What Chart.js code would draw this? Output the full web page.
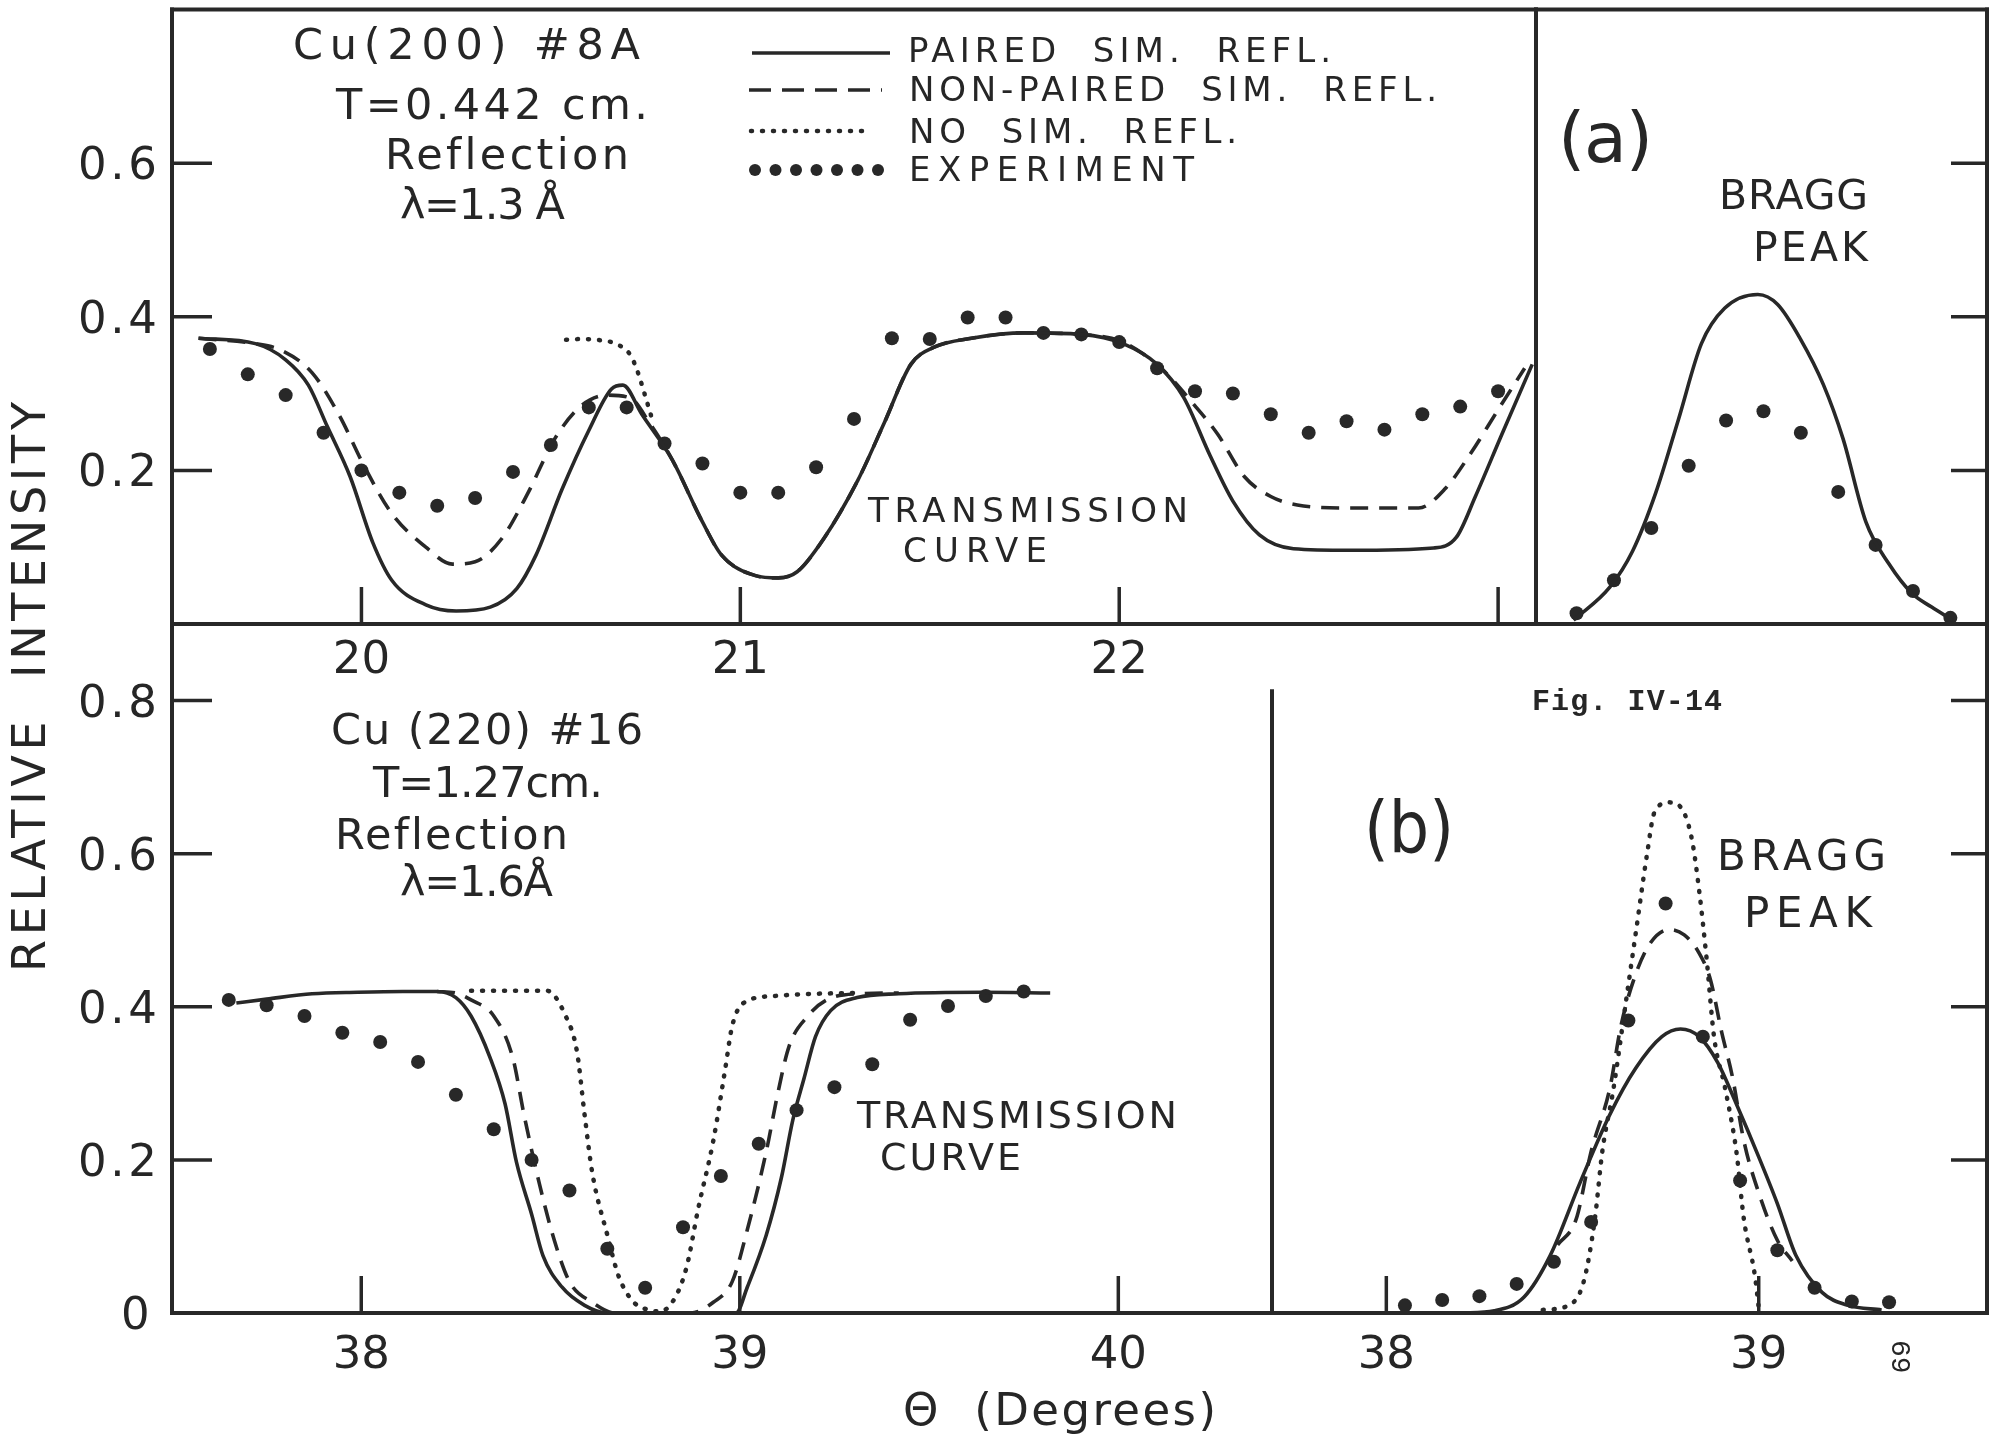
<!DOCTYPE html>
<html>
<head>
<meta charset="utf-8">
<script src="https://cdn.jsdelivr.net/npm/chart.js@4.4.1/dist/chart.umd.min.js"></script>
<style>
  html, body { margin: 0; padding: 0; background: #ffffff; }
  #wrap { position: relative; width: 1994px; height: 1437px; overflow: hidden; background: #ffffff; }
  #wrap canvas { position: absolute; left: 0; top: 0; }
</style>
</head>
<body>
<div id="wrap">
  <canvas id="cTop" width="1994" height="1437"></canvas>
  <canvas id="cBraggA" width="1994" height="1437"></canvas>
  <canvas id="cBot" width="1994" height="1437"></canvas>
  <canvas id="cBraggB" width="1994" height="1437"></canvas>
</div>
<script>
// ---------------- DATA ----------------
// (a) Cu(200) #8A, transmission curve region, theta in degrees
const topPairedX = [19.57,19.72,19.80,19.86,19.91,19.97,20.03,20.08,20.17,20.25,20.34,20.41,20.46,20.53,20.60,20.66,20.69,20.74,20.82,20.90,20.95,21.04,21.10,21.15,21.22,21.31,21.38,21.45,21.51,21.61,21.75,21.90,22.01,22.10,22.17,22.24,22.30,22.37,22.46,22.61,22.83,22.89,22.94,23.01,23.09];
const topPairedY = [0.372,0.365,0.344,0.311,0.257,0.192,0.106,0.057,0.025,0.017,0.022,0.046,0.089,0.176,0.252,0.306,0.311,0.273,0.214,0.133,0.090,0.063,0.060,0.068,0.111,0.187,0.262,0.338,0.360,0.372,0.379,0.377,0.365,0.338,0.295,0.219,0.160,0.116,0.098,0.096,0.099,0.113,0.166,0.247,0.338];
const topNonPairedX = [19.57,19.72,19.79,19.87,19.94,20.01,20.08,20.17,20.24,20.30,20.37,20.44,20.51,20.58,20.65,20.71,20.76,20.82,20.90,20.95,21.04,21.10,21.15,21.22,21.31,21.38,21.45,21.51,21.61,21.75,21.90,22.01,22.11,22.20,22.26,22.33,22.40,22.47,22.61,22.79,22.86,22.93,23.00,23.07];
const topNonPairedY = [0.372,0.365,0.356,0.327,0.273,0.203,0.144,0.100,0.078,0.081,0.111,0.171,0.241,0.284,0.298,0.294,0.262,0.214,0.133,0.090,0.063,0.060,0.068,0.111,0.187,0.262,0.338,0.360,0.372,0.379,0.377,0.367,0.333,0.284,0.247,0.192,0.166,0.155,0.151,0.151,0.176,0.224,0.279,0.333];
const topNoSimX = [20.54,20.58,20.62,20.67,20.71,20.73,20.75,20.77];
const topNoSimY = [0.370,0.371,0.370,0.365,0.350,0.327,0.295,0.262];
const topExpX = [19.6,19.7,19.8,19.9,20.0,20.1,20.2,20.3,20.4,20.5,20.6,20.7,20.8,20.9,21.0,21.1,21.2,21.3,21.4,21.5,21.6,21.7,21.8,21.9,22.0,22.1,22.2,22.3,22.4,22.5,22.6,22.7,22.8,22.9,23.0];
const topExpY = [0.358,0.325,0.298,0.249,0.200,0.171,0.154,0.164,0.198,0.233,0.282,0.282,0.235,0.209,0.171,0.171,0.204,0.267,0.372,0.371,0.399,0.399,0.379,0.377,0.367,0.333,0.303,0.300,0.273,0.249,0.264,0.253,0.273,0.283,0.303];

// (a) Bragg peak, x in measurement steps (no scale printed)
const braggAPairedX = [-0.08,0.89,1.50,2.12,2.73,3.34,3.96,4.85,5.38,5.99,6.60,7.13,7.74,8.36,8.97,9.50,10.06];
const braggAPairedY = [0.005,0.048,0.095,0.171,0.267,0.365,0.411,0.429,0.416,0.371,0.312,0.241,0.133,0.078,0.040,0.022,0.005];
const braggAExpX = [0,1,2,3,4,5,6,7,8,9,10];
const braggAExpY = [0.014,0.057,0.125,0.206,0.265,0.277,0.249,0.172,0.103,0.043,0.008];

// (b) Cu(220) #16, transmission curve region
const botPairedX = [37.67,37.75,37.87,37.99,38.11,38.20,38.25,38.29,38.34,38.38,38.41,38.45,38.48,38.53,38.59,38.65,38.80,38.99,39.02,39.07,39.11,39.14,39.17,39.20,39.24,39.31,39.42,39.64,39.82];
const botPairedY = [0.405,0.410,0.417,0.419,0.420,0.420,0.412,0.388,0.334,0.273,0.197,0.129,0.075,0.034,0.010,0.000,0.000,0.000,0.034,0.102,0.177,0.252,0.307,0.361,0.395,0.412,0.417,0.419,0.418];
const botNonPairedX = [38.20,38.25,38.29,38.35,38.40,38.43,38.47,38.51,38.55,38.61,38.67,38.87,38.93,38.98,39.02,39.07,39.10,39.13,39.18,39.23,39.31,39.42];
const botNonPairedY = [0.420,0.418,0.409,0.388,0.334,0.259,0.170,0.095,0.041,0.014,0.000,0.000,0.014,0.041,0.109,0.211,0.286,0.348,0.388,0.409,0.417,0.418];
const botNoSimX = [38.29,38.40,38.49,38.54,38.57,38.59,38.61,38.65,38.68,38.72,38.76,38.79,38.83,38.86,38.89,38.93,38.96,38.98,39.01,39.09,39.20,39.31];
const botNoSimY = [0.421,0.421,0.421,0.388,0.341,0.259,0.184,0.102,0.048,0.014,0.004,0.002,0.021,0.061,0.136,0.225,0.314,0.375,0.405,0.414,0.417,0.418];
const botExpX = [37.65,37.75,37.85,37.95,38.05,38.15,38.25,38.35,38.45,38.55,38.65,38.75,38.85,38.95,39.05,39.15,39.25,39.35,39.45,39.55,39.65,39.75];
const botExpY = [0.409,0.402,0.388,0.366,0.354,0.328,0.285,0.240,0.200,0.160,0.084,0.033,0.112,0.179,0.221,0.265,0.295,0.325,0.383,0.401,0.414,0.420];

// (b) Bragg peak
const braggBPairedX = [38.20,38.29,38.37,38.44,38.52,38.60,38.67,38.74,38.79,38.84,38.89,38.94,39.00,39.05,39.10,39.17,39.24,39.33];
const braggBPairedY = [0.000,0.003,0.021,0.075,0.170,0.259,0.320,0.361,0.371,0.361,0.327,0.273,0.204,0.143,0.075,0.027,0.010,0.004];
const braggBNonPairedX = [38.46,38.51,38.55,38.60,38.63,38.67,38.71,38.76,38.80,38.84,38.87,38.90,38.93,38.96,39.00,39.05,39.09];
const braggBNonPairedY = [0.089,0.123,0.211,0.293,0.375,0.443,0.484,0.501,0.494,0.470,0.436,0.368,0.307,0.225,0.157,0.095,0.068];
const braggBNoSimX = [38.42,38.49,38.53,38.56,38.58,38.61,38.64,38.67,38.70,38.72,38.76,38.79,38.82,38.84,38.86,38.88,38.91,38.94,38.96,38.99,39.00];
const braggBNoSimY = [0.004,0.010,0.041,0.123,0.211,0.293,0.395,0.497,0.599,0.654,0.667,0.661,0.620,0.552,0.463,0.361,0.293,0.211,0.123,0.048,0.007];
const braggBExpX = [38.05,38.15,38.25,38.35,38.45,38.55,38.65,38.75,38.85,38.95,39.05,39.15,39.25,39.35];
const braggBExpY = [0.010,0.017,0.022,0.038,0.067,0.119,0.382,0.535,0.361,0.173,0.082,0.033,0.015,0.014];

// ticks
const topXTicks = [20, 21, 22, 23];
const topXLabels = ['20', '21', '22', ''];
const topYTicks = [0.2, 0.4, 0.6];
const topYLabels = ['0.2', '0.4', '0.6'];
const botXTicks = [38, 39, 40];
const botXLabels = ['38', '39', '40'];
const botYTicks = [0, 0.2, 0.4, 0.6, 0.8];
const botYLabels = ['0', '0.2', '0.4', '0.6', '0.8'];
const braggBXTicks = [38, 39];
const braggBXLabels = ['38', '39'];
const braggAYTicks = [0.2, 0.4, 0.6];
const braggBYTicks = [0.2, 0.4, 0.6, 0.8];

// ---------------- STYLE ----------------
const INK = '#282828';
const TXT = '#262626';
const FONT = "'DejaVu Sans', 'Liberation Sans', sans-serif";
const MONO = "'Liberation Mono', 'DejaVu Sans Mono', monospace";

const pts = (xs, ys) => xs.map((x, i) => ({ x: x, y: ys[i] }));
const solid = (xs, ys) => ({ data: pts(xs, ys), showLine: true, pointRadius: 0, borderColor: INK, borderWidth: 3.6, cubicInterpolationMode: 'monotone', fill: false });
const dashed = (xs, ys) => ({ data: pts(xs, ys), showLine: true, pointRadius: 0, borderColor: INK, borderWidth: 3.6, borderDash: [18, 11], cubicInterpolationMode: 'monotone', fill: false });
const dotted = (xs, ys) => ({ data: pts(xs, ys), showLine: true, pointRadius: 0, borderColor: INK, borderWidth: 4.5, borderDash: [1, 10], borderCapStyle: 'round', cubicInterpolationMode: 'monotone', fill: false });
const experiment = (xs, ys) => ({ data: pts(xs, ys), showLine: false, pointRadius: 7, pointBackgroundColor: INK, pointBorderColor: INK, pointBorderWidth: 0 });

// text with width fitted by letter spacing
function fitText(ctx, t, x1, x2, yb, size, family, weight) {
  ctx.font = (weight || 'normal') + ' ' + size + 'px ' + family;
  ctx.textAlign = 'left';
  ctx.textBaseline = 'alphabetic';
  const hasLS = ('letterSpacing' in ctx);
  if (hasLS) ctx.letterSpacing = '0px';
  const w = ctx.measureText(t).width;
  const n = Array.from(t).length;
  let ls = n > 1 ? ((x2 - x1) - w) / (n - 1) : 0;
  if (hasLS && ls > -1.5) {
    ctx.letterSpacing = ls + 'px';
    ctx.fillText(t, x1, yb);
    ctx.letterSpacing = '0px';
  } else {
    ctx.save();
    ctx.translate(x1, yb);
    ctx.scale((x2 - x1) / w, 1);
    ctx.fillText(t, 0, 0);
    ctx.restore();
  }
}

const decorCfg = {};
const decor = {
  id: 'decor',
  afterDraw(chart) {
    const cfg = decorCfg[chart.canvas.id];
    if (!cfg) return;
    const ctx = chart.ctx, a = chart.chartArea, xs = chart.scales.x, ys = chart.scales.y;
    ctx.save();
    ctx.strokeStyle = INK;
    ctx.lineCap = 'square';
    ctx.lineWidth = 4;
    const seg = (x1, y1, x2, y2) => { ctx.beginPath(); ctx.moveTo(x1, y1); ctx.lineTo(x2, y2); ctx.stroke(); };
    (cfg.borders || []).forEach(b => {
      if (b.side === 'top') seg(a.left, a.top, a.right, a.top);
      if (b.side === 'bottom') seg(a.left, a.bottom, a.right, a.bottom);
      if (b.side === 'left') seg(a.left, a.top, a.left, a.bottom);
      if (b.side === 'right') seg(a.right, b.from !== undefined ? ys.getPixelForValue(b.from) : a.top, a.right, a.bottom);
    });
    ctx.lineWidth = 3.5;
    ctx.lineCap = 'butt';
    (cfg.yTicks || []).forEach(v => {
      if (v === 0) return;
      const py = ys.getPixelForValue(v);
      if (cfg.ySide === 'left') seg(a.left, py, a.left + 40, py);
      else seg(a.right - 36, py, a.right, py);
    });
    (cfg.xTicks || []).forEach(v => {
      const px = xs.getPixelForValue(v);
      seg(px, a.bottom, px, a.bottom - 37);
    });
    ctx.fillStyle = TXT;
    if (cfg.yLabels) {
      cfg.yTicks.forEach((v, i) => {
        const py = ys.getPixelForValue(v);
        const s = cfg.yLabels[i];
        if (s.length > 1) fitText(ctx, s, 78, 157, py + 16, 45, FONT);
        else fitText(ctx, s, 121, 150, py + 16, 45, FONT);
      });
    }
    if (cfg.xLabels) {
      ctx.font = '45px ' + FONT;
      ctx.textAlign = 'center';
      ctx.textBaseline = 'alphabetic';
      cfg.xTicks.forEach((v, i) => {
        const px = xs.getPixelForValue(v);
        if (cfg.xLabels[i]) ctx.fillText(cfg.xLabels[i], px, a.bottom + cfg.xLabelOffset);
      });
    }
    (cfg.texts || []).forEach(t => {
      ctx.fillStyle = TXT;
      fitText(ctx, t.t, t.x1, t.x2, t.yb, t.size, t.family || FONT, t.weight);
    });
    if (cfg.extra) cfg.extra(ctx);
    ctx.restore();
  }
};

function makeChart(id, pad, xr, yr, datasets) {
  return new Chart(document.getElementById(id), {
    type: 'scatter',
    data: { datasets: datasets },
    options: {
      responsive: false, animation: false, devicePixelRatio: 1, events: [],
      layout: { padding: pad },
      plugins: { legend: { display: false }, tooltip: { enabled: false }, title: { display: false } },
      scales: {
        x: { type: 'linear', min: xr[0], max: xr[1], display: false },
        y: { type: 'linear', min: yr[0], max: yr[1], display: false }
      }
    },
    plugins: [decor]
  });
}

// ---------------- DECORATION CONFIG ----------------
decorCfg.cTop = {
  borders: [{ side: 'top' }, { side: 'left' }, { side: 'bottom' }, { side: 'right' }],
  yTicks: topYTicks, yLabels: topYLabels, ySide: 'left',
  xTicks: topXTicks, xLabels: topXLabels, xLabelOffset: 49,
  texts: [
    { t: 'Cu(200) #8A', x1: 293, x2: 640, yb: 59, size: 43 },
    { t: 'T=0.442 cm.', x1: 336, x2: 648, yb: 119, size: 43 },
    { t: 'Reflection', x1: 385, x2: 629, yb: 169, size: 43 },
    { t: 'λ=1.3 Å', x1: 400, x2: 565, yb: 219, size: 43 },
    { t: 'PAIRED  SIM.  REFL.', x1: 908, x2: 1331, yb: 62, size: 34 },
    { t: 'NON-PAIRED  SIM.  REFL.', x1: 909, x2: 1437, yb: 101, size: 34 },
    { t: 'NO  SIM.  REFL.', x1: 909, x2: 1237, yb: 143, size: 34 },
    { t: 'EXPERIMENT', x1: 909, x2: 1194, yb: 181, size: 34 },
    { t: 'TRANSMISSION', x1: 868, x2: 1188, yb: 522, size: 34 },
    { t: 'CURVE', x1: 903, x2: 1047, yb: 562, size: 34 },
    { t: 'Θ  (Degrees)', x1: 903, x2: 1216, yb: 1425, size: 45 }
  ],
  extra: (ctx) => {
    // legend samples
    ctx.strokeStyle = INK; ctx.fillStyle = INK;
    ctx.lineWidth = 3.5; ctx.lineCap = 'butt';
    ctx.setLineDash([]);
    ctx.beginPath(); ctx.moveTo(752, 53); ctx.lineTo(890, 53); ctx.stroke();
    ctx.setLineDash([22, 11]);
    ctx.beginPath(); ctx.moveTo(749, 90); ctx.lineTo(882, 90); ctx.stroke();
    ctx.setLineDash([1, 10]); ctx.lineCap = 'round'; ctx.lineWidth = 4.5;
    ctx.beginPath(); ctx.moveTo(751, 131); ctx.lineTo(872, 131); ctx.stroke();
    ctx.setLineDash([]);
    for (let i = 0; i < 7; i++) {
      ctx.beginPath(); ctx.arc(755 + i * 20.5, 170, 6, 0, Math.PI * 2); ctx.fill();
    }
    // y axis title
    ctx.save();
    ctx.translate(45, 972);
    ctx.rotate(-Math.PI / 2);
    ctx.fillStyle = TXT;
    fitText(ctx, 'RELATIVE  INTENSITY', 0, 570, 0, 46, FONT);
    ctx.restore();
  }
};

decorCfg.cBraggA = {
  borders: [{ side: 'top' }, { side: 'right' }, { side: 'bottom' }],
  yTicks: braggAYTicks, ySide: 'right',
  texts: [
    { t: '(a)', x1: 1558, x2: 1653, yb: 162, size: 70 },
    { t: 'BRAGG', x1: 1719, x2: 1868, yb: 209, size: 41 },
    { t: 'PEAK', x1: 1753, x2: 1868, yb: 261, size: 41 }
  ]
};

decorCfg.cBot = {
  borders: [{ side: 'left' }, { side: 'bottom' }, { side: 'right', from: 0.812 }],
  yTicks: botYTicks, yLabels: botYLabels, ySide: 'left',
  xTicks: botXTicks, xLabels: botXLabels, xLabelOffset: 55,
  texts: [
    { t: 'Cu (220) #16', x1: 331, x2: 643, yb: 744, size: 43 },
    { t: 'T=1.27cm.', x1: 373, x2: 603, yb: 797, size: 43 },
    { t: 'Reflection', x1: 335, x2: 568, yb: 849, size: 43 },
    { t: 'λ=1.6Å', x1: 400, x2: 553, yb: 896, size: 43 },
    { t: 'TRANSMISSION', x1: 857, x2: 1177, yb: 1128, size: 38 },
    { t: 'CURVE', x1: 880, x2: 1021, yb: 1170, size: 38 }
  ]
};

decorCfg.cBraggB = {
  borders: [{ side: 'bottom' }, { side: 'right' }],
  yTicks: braggBYTicks, ySide: 'right',
  xTicks: braggBXTicks, xLabels: braggBXLabels, xLabelOffset: 55,
  texts: [
    { t: 'Fig. IV-14', x1: 1532, x2: 1722, yb: 710, size: 30, family: MONO, weight: 'bold' },
    { t: '(b)', x1: 1364, x2: 1454, yb: 852, size: 72 },
    { t: 'BRAGG', x1: 1717, x2: 1886, yb: 870, size: 42 },
    { t: 'PEAK', x1: 1744, x2: 1872, yb: 927, size: 42 }
  ],
  extra: (ctx) => {
    ctx.save();
    ctx.translate(1892, 1340);
    ctx.rotate(Math.PI / 2);
    ctx.fillStyle = TXT;
    ctx.font = '28px ' + MONO;
    ctx.textAlign = 'left';
    ctx.textBaseline = 'alphabetic';
    ctx.fillText('69', 0, 0);
    ctx.restore();
  }
};

// ---------------- CHARTS ----------------
makeChart('cTop', { left: 172, top: 9.5, right: 458, bottom: 813 }, [19.5, 23.1], [0, 0.8], [
  solid(topPairedX, topPairedY),
  dashed(topNonPairedX, topNonPairedY),
  dotted(topNoSimX, topNoSimY),
  experiment(topExpX, topExpY)
]);

makeChart('cBraggA', { left: 1536, top: 9.5, right: 2, bottom: 813 }, [-1.085, 10.98], [0, 0.8], [
  solid(braggAPairedX, braggAPairedY),
  experiment(braggAExpX, braggAExpY)
]);

makeChart('cBot', { left: 172, top: 624, right: 722, bottom: 124 }, [37.5, 40.406], [0, 0.9], [
  solid(botPairedX, botPairedY),
  dashed(botNonPairedX, botNonPairedY),
  dotted(botNoSimX, botNoSimY),
  experiment(botExpX, botExpY)
]);

makeChart('cBraggB', { left: 1272, top: 624, right: 2, bottom: 124 }, [37.693, 39.613], [0, 0.9], [
  solid(braggBPairedX, braggBPairedY),
  dashed(braggBNonPairedX, braggBNonPairedY),
  dotted(braggBNoSimX, braggBNoSimY),
  experiment(braggBExpX, braggBExpY)
]);
</script>
</body>
</html>
